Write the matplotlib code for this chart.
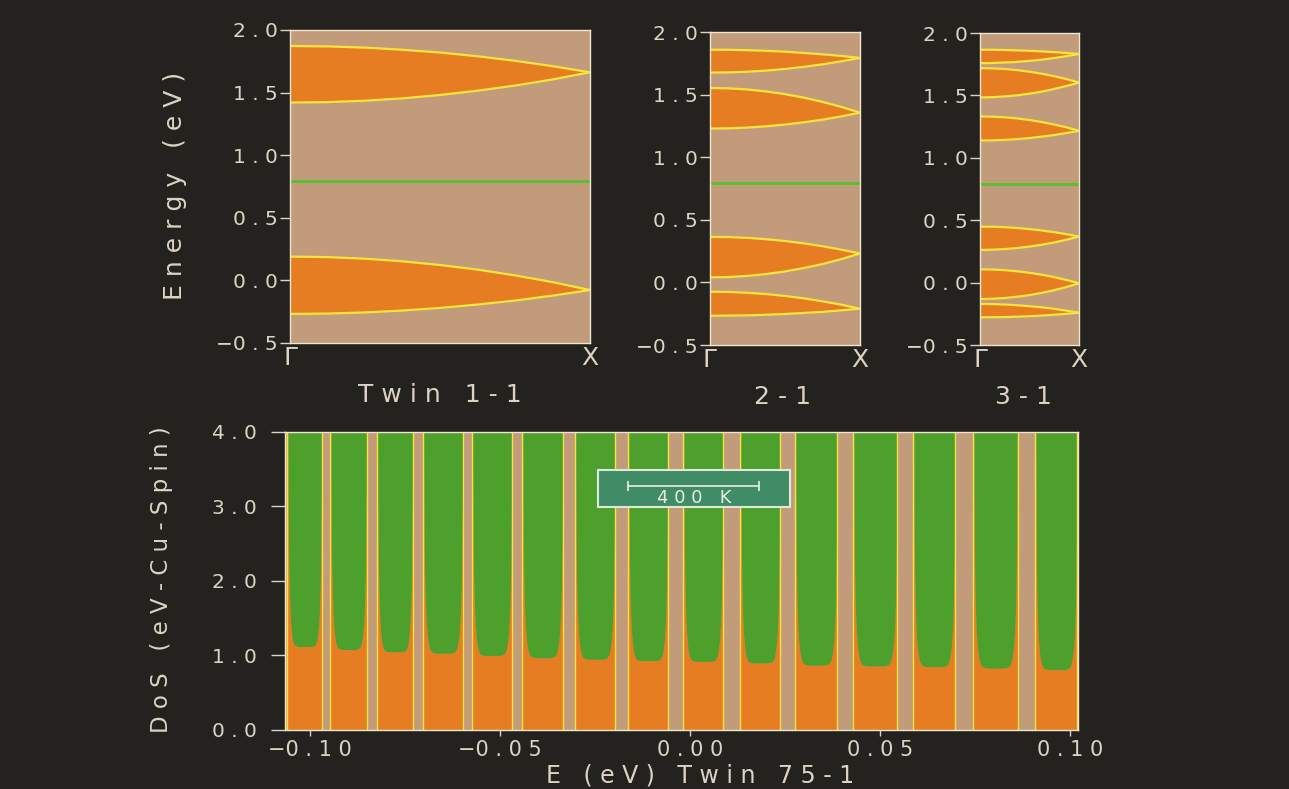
import numpy as np
import matplotlib
matplotlib.use("Agg")
import matplotlib.pyplot as plt
from matplotlib.patches import Rectangle

# colours picked off the old slide
BG = "#24221f"
TAN = "#c19b7a"
ORANGE = "#e67d22"
GREEN = "#4da02c"
FERMI = "#57c02c"
YELLOW = "#f7e43c"
TEAL = "#3f8c66"
TXT = "#dcd3c3"
EDGE = "#efe6cf"

plt.rcParams['font.family'] = ['DejaVu Sans']

# k along Gamma -> X
k = [0.0, 0.125, 0.25, 0.375, 0.5, 0.625, 0.75, 0.875, 1.0]

# band edges (eV), upper and lower edge of every band
twin11_upper = [[1.872, 1.869, 1.859, 1.842, 1.820, 1.790, 1.754, 1.711, 1.662],
                [0.190, 0.186, 0.173, 0.152, 0.123, 0.086, 0.040, -0.014, -0.077]]
twin11_lower = [[1.420, 1.424, 1.435, 1.454, 1.481, 1.515, 1.556, 1.605, 1.662],
                [-0.268, -0.265, -0.256, -0.241, -0.220, -0.193, -0.161, -0.122, -0.077]]

twin21_upper = [[1.859, 1.858, 1.855, 1.850, 1.843, 1.833, 1.822, 1.809, 1.793],
                [1.553, 1.550, 1.541, 1.525, 1.504, 1.476, 1.442, 1.402, 1.356],
                [0.364, 0.362, 0.356, 0.345, 0.331, 0.312, 0.289, 0.262, 0.231],
                [-0.074, -0.076, -0.083, -0.093, -0.108, -0.127, -0.151, -0.178, -0.210]]
twin21_lower = [[1.676, 1.678, 1.683, 1.692, 1.705, 1.722, 1.742, 1.766, 1.793],
                [1.229, 1.231, 1.237, 1.247, 1.261, 1.279, 1.300, 1.326, 1.356],
                [0.040, 0.043, 0.052, 0.067, 0.088, 0.115, 0.147, 0.186, 0.231],
                [-0.266, -0.265, -0.263, -0.258, -0.252, -0.244, -0.235, -0.223, -0.210]]

twin31_upper = [[1.866, 1.866, 1.864, 1.861, 1.858, 1.853, 1.847, 1.840, 1.832],
                [1.719, 1.717, 1.712, 1.703, 1.690, 1.674, 1.654, 1.631, 1.604],
                [1.332, 1.330, 1.325, 1.316, 1.303, 1.287, 1.267, 1.244, 1.217],
                [0.449, 0.448, 0.444, 0.438, 0.429, 0.418, 0.404, 0.388, 0.369],
                [0.107, 0.105, 0.100, 0.091, 0.079, 0.063, 0.044, 0.021, -0.005],
                [-0.171, -0.172, -0.175, -0.181, -0.189, -0.198, -0.210, -0.225, -0.241]]
twin31_lower = [[1.759, 1.760, 1.764, 1.769, 1.777, 1.787, 1.800, 1.815, 1.832],
                [1.484, 1.486, 1.492, 1.501, 1.514, 1.531, 1.552, 1.576, 1.604],
                [1.139, 1.140, 1.144, 1.150, 1.159, 1.170, 1.183, 1.199, 1.217],
                [0.262, 0.264, 0.269, 0.277, 0.289, 0.304, 0.322, 0.344, 0.369],
                [-0.131, -0.129, -0.123, -0.113, -0.100, -0.082, -0.060, -0.035, -0.005],
                [-0.278, -0.277, -0.276, -0.273, -0.269, -0.264, -0.257, -0.250, -0.241]]

fermi = [0.79, 0.795, 0.79]

# Twin 75-1 density of states: band edges (eV) and the DoS at the band middle
band_lo = [-0.1060, -0.0947, -0.0824, -0.0703, -0.0574, -0.0442, -0.0303, -0.0163,
           -0.0018, 0.0132, 0.0276, 0.0429, 0.0587, 0.0745, 0.0908]
band_hi = [-0.0968, -0.0850, -0.0729, -0.0597, -0.0468, -0.0334, -0.0197, -0.0058,
           0.0087, 0.0237, 0.0387, 0.0545, 0.0697, 0.0861, 0.1018]
band_min = [1.12, 1.08, 1.05, 1.03, 1.00, 0.97, 0.95, 0.93,
            0.92, 0.90, 0.87, 0.86, 0.85, 0.83, 0.81]

# shape of one band (half, fraction across band -> DoS / middle DoS)
profile_t = [0.0, 0.005, 0.01, 0.015, 0.02, 0.03, 0.04, 0.05, 0.06, 0.08,
             0.10, 0.12, 0.15, 0.20, 0.30, 0.50]
profile_rel = [8.0, 6.0, 4.6, 3.7, 3.1, 2.5, 2.1, 1.85, 1.65, 1.42,
               1.27, 1.17, 1.08, 1.02, 1.0, 1.0]

# 400 K scale bar (k_B T in eV)
bar_start = -0.0163
bar_len = 400 * 8.617e-5


def sp(s):
    # spread the letters out like the old plotter font
    out = ""
    for i, c in enumerate(s):
        if c == " ":
            out += "   "
            continue
        out += c
        if i < len(s) - 1 and s[i + 1] != " " and c != "\u2212":
            out += " "
    return out


def num(v, fmt):
    return sp(format(v, fmt).replace("-", "\u2212"))


fig = plt.figure(figsize=(12.89, 7.89), dpi=100)
fig.patch.set_facecolor(BG)


def band_panel(rect, upper, lower, ef):
    ax = fig.add_axes(rect)
    ax.set_facecolor(TAN)
    for top, bot in zip(upper, lower):
        ax.fill_between(k, bot, top, color=ORANGE, lw=0)
        ax.plot(k, top, color=YELLOW, lw=1.6)
        ax.plot(k, bot, color=YELLOW, lw=1.6)
    ax.axhline(ef, color=FERMI, lw=2)
    ax.set_xlim(0, 1)
    ax.set_ylim(-0.5, 2.0)
    yt = [-0.5, 0.0, 0.5, 1.0, 1.5, 2.0]
    ax.set_yticks(yt, [num(v, ".1f") for v in yt])
    ax.set_xticks([0, 1], ["\u0393", "X"])
    ax.tick_params(axis="y", direction="out", length=7, width=1, color=TXT,
                   labelcolor=TXT, labelsize=14.5, pad=2)
    ax.tick_params(axis="x", length=0, labelcolor=TXT, labelsize=18, pad=2)
    for s in ax.spines.values():
        s.set_color(EDGE)
        s.set_linewidth(1)
    return ax


band_panel([0.225, 0.5653, 0.2327, 0.3967], twin11_upper, twin11_lower, fermi[0])
band_panel([0.5508, 0.5627, 0.1164, 0.3967], twin21_upper, twin21_lower, fermi[1])
band_panel([0.7603, 0.5627, 0.0768, 0.3954], twin31_upper, twin31_lower, fermi[2])

fig.text(0.1358, 0.764, sp("Energy (eV)"), rotation=90, ha="center", va="center",
         color=TXT, fontsize=18)
fig.text(0.3413, 0.4994, sp("Twin 1-1"), ha="center", va="center", color=TXT, fontsize=18)
fig.text(0.6067, 0.4968, sp("2-1"), ha="center", va="center", color=TXT, fontsize=18)
fig.text(0.7936, 0.4968, sp("3-1"), ha="center", va="center", color=TXT, fontsize=18)

# density of states
ax = fig.add_axes([0.2211, 0.0748, 0.6152, 0.3777])
ax.set_facecolor(TAN)
prof_t = np.array(profile_t + [1 - t for t in profile_t[::-1]])
prof_rel = np.array(profile_rel + profile_rel[::-1])
for lo, hi, dmin in zip(band_lo, band_hi, band_min):
    e = lo + prof_t * (hi - lo)
    dos = np.minimum(dmin * prof_rel, 4.0)
    ax.fill_between(e, 0, dos, color=ORANGE, lw=0)
    ax.fill_between(e, dos, 4.0, color=GREEN, lw=0)
    ax.axvline(lo, color=YELLOW, lw=1)
    ax.axvline(hi, color=YELLOW, lw=1)

ax.add_patch(Rectangle((-0.0242, 2.99), 0.0505, 0.50, facecolor=TEAL,
                       edgecolor="#dfe9d8", lw=1.5, zorder=5))
ax.plot([bar_start, bar_start + bar_len], [3.28, 3.28], color="#e8eee0", lw=1.2,
        marker="|", markersize=7, mew=1.2, zorder=6)
ax.text(bar_start + bar_len / 2, 3.12, sp("400 K"), ha="center", va="center",
        color="#e8eee0", fontsize=13, zorder=6)

ax.set_xlim(-0.1066, 0.102)
ax.set_ylim(0, 4.0)
xt = [-0.10, -0.05, 0.00, 0.05, 0.10]
ax.set_xticks(xt, [num(v, ".2f") for v in xt])
yt = [0.0, 1.0, 2.0, 3.0, 4.0]
ax.set_yticks(yt, [num(v, ".1f") for v in yt])
ax.tick_params(axis="y", direction="out", length=10, width=1, color=TXT,
               labelcolor=TXT, labelsize=14.5, pad=10)
ax.tick_params(axis="x", direction="out", length=4, width=1, color=TXT,
               labelcolor=TXT, labelsize=15, pad=3)
for s in ax.spines.values():
    s.set_color(EDGE)
    s.set_linewidth(1)

fig.text(0.125, 0.265, sp("DoS (eV-Cu-Spin)"), rotation=90, ha="center", va="center",
         color=TXT, fontsize=16.5)
fig.text(0.543, 0.0177, sp("E (eV) Twin 75-1"), ha="center", va="center",
         color=TXT, fontsize=17)

fig.savefig("out.png", dpi=100, facecolor=BG)
